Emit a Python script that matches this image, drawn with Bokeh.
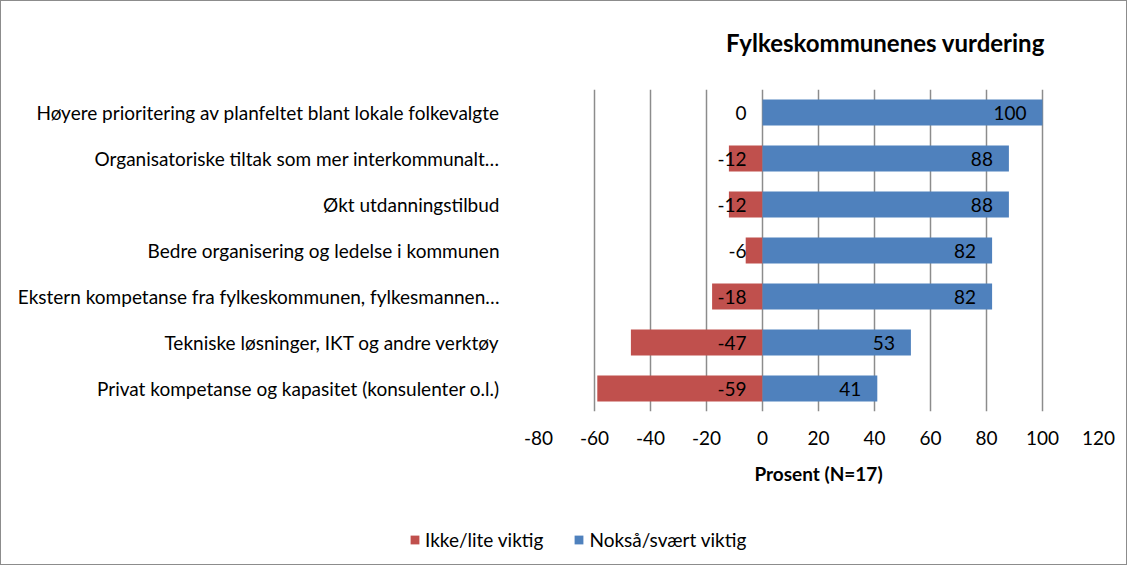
from bokeh.plotting import figure
from bokeh.models import ColumnDataSource, Range1d, FixedTicker, Legend, LegendItem, Label
from bokeh.layouts import column
from bokeh.embed import file_html
from bokeh.resources import INLINE
from bokeh.core.properties import value

categories = [
    "Høyere prioritering av planfeltet blant lokale folkevalgte",
    "Organisatoriske tiltak som mer interkommunalt…",
    "Økt utdanningstilbud",
    "Bedre organisering og ledelse i kommunen",
    "Ekstern kompetanse fra fylkeskommunen, fylkesmannen…",
    "Tekniske løsninger, IKT og andre verktøy",
    "Privat kompetanse og kapasitet (konsulenter o.l.)",
]
ikke_viktig = [0, -12, -12, -6, -18, -47, -59]
viktig = [100, 88, 88, 82, 82, 53, 41]
x_ticks = [-80, -60, -40, -20, 0, 20, 40, 60, 80, 100, 120]
series_names = ["Ikke/lite viktig", "Nokså/svært viktig"]
title_text = "Fylkeskommunenes vurdering"
x_title = "Prosent (N=17)"

RED = "#C0504D"
BLUE = "#4F81BD"
FONT = "Lato"
FS = "19px"
W = 1125
H_TOP = 88
H_MAIN = 414
H_LEG = 61


def strip(height):
    f = figure(width=W, height=height, x_range=Range1d(0, 1), y_range=Range1d(0, 1),
               x_axis_type=None, y_axis_type=None,
               output_backend="svg", toolbar_location=None, min_border=0)
    f.frame_align = False
    f.outline_line_color = None
    f.grid.visible = False
    f.background_fill_color = "white"
    f.border_fill_color = "white"
    return f


src = ColumnDataSource(dict(
    cat=categories,
    neg=ikke_viktig,
    pos=viktig,
    zero=[0] * len(categories),
    neg_lbl=[str(v) for v in ikke_viktig],
    pos_lbl=[str(v) for v in viktig],
))

# title strip
pt = strip(H_TOP)
pt.add_layout(Label(x=884, y=H_TOP - 41, x_units="screen", y_units="screen",
                    text=title_text, text_align="center", text_baseline="middle",
                    text_font=FONT, text_font_size="24px", text_font_style="bold",
                    text_color="black"))

# main chart
p = figure(
    width=W, height=H_MAIN,
    y_range=list(reversed(categories)),
    x_range=Range1d(x_ticks[0], x_ticks[-1]),
    output_backend="svg", toolbar_location=None,
    min_border_left=537, min_border_right=W - 1097,
    min_border_top=0, min_border_bottom=H_MAIN - 322,
)
p.frame_align = False
p.title.visible = False
p.y_range.range_padding = 0
p.outline_line_color = None
p.background_fill_color = "white"
p.border_fill_color = "white"

p.hbar(y="cat", left="zero", right="neg", height=0.57, source=src,
       fill_color=RED, line_color=None)
p.hbar(y="cat", left="zero", right="pos", height=0.57, source=src,
       fill_color=BLUE, line_color=None)

p.text(x="zero", y="cat", text="neg_lbl", source=src, text_align="right",
       text_baseline="middle", x_offset=-16, text_font=value(FONT),
       text_font_size=FS, text_color="black")
p.text(x="pos", y="cat", text="pos_lbl", source=src, text_align="right",
       text_baseline="middle", x_offset=-16, text_font=value(FONT),
       text_font_size=FS, text_color="black")

p.ygrid.grid_line_color = None
p.xgrid.grid_line_color = "#8c8c8c"
p.xgrid.grid_line_width = 1.5
p.xgrid.ticker = FixedTicker(ticks=x_ticks)

p.xaxis.ticker = FixedTicker(ticks=x_ticks)
p.xaxis.major_label_overrides = {t: str(t) for t in x_ticks}
p.xaxis.axis_line_color = None
p.xaxis.major_tick_line_color = None
p.xaxis.minor_tick_line_color = None
p.xaxis.major_label_standoff = 13
p.xaxis.major_label_text_font = FONT
p.xaxis.major_label_text_font_size = FS
p.xaxis.major_label_text_color = "black"
p.xaxis.axis_label = x_title
p.xaxis.axis_label_text_font = FONT
p.xaxis.axis_label_text_font_size = "19px"
p.xaxis.axis_label_text_font_style = "bold"
p.xaxis.axis_label_text_color = "black"
p.xaxis.axis_label_standoff = 14

p.yaxis.axis_line_color = None
p.yaxis.major_tick_line_color = None
p.yaxis.minor_tick_line_color = None
p.yaxis.major_label_standoff = 33
p.yaxis.major_label_text_font = FONT
p.yaxis.major_label_text_font_size = FS
p.yaxis.major_label_text_color = "black"

# legend strip (bars lie outside its visible ranges; used only as legend glyphs)
pl = strip(H_LEG)
pl.x_range = Range1d(200, 201)
pl.y_range = Range1d(200, 201)
l_neg = pl.hbar(y="zero", left="zero", right="neg", height=0.5, source=src,
                fill_color=RED, line_color=None)
l_pos = pl.hbar(y="zero", left="zero", right="pos", height=0.5, source=src,
                fill_color=BLUE, line_color=None)

legend = Legend(
    items=[LegendItem(label=series_names[0], renderers=[l_neg]),
           LegendItem(label=series_names[1], renderers=[l_pos])],
    orientation="horizontal",
    location=(408, 13),
    glyph_width=11, glyph_height=11, label_standoff=5, spacing=30,
    padding=0, margin=0, border_line_color=None, background_fill_alpha=0,
    label_text_font=FONT, label_text_font_size=FS, label_text_color="black",
)
pl.add_layout(legend)

layout = column(pt, p, pl, spacing=0)
layout.styles = {"border": "1px solid #8c8c8c"}

open("out.html", "w").write(file_html(layout, INLINE))
